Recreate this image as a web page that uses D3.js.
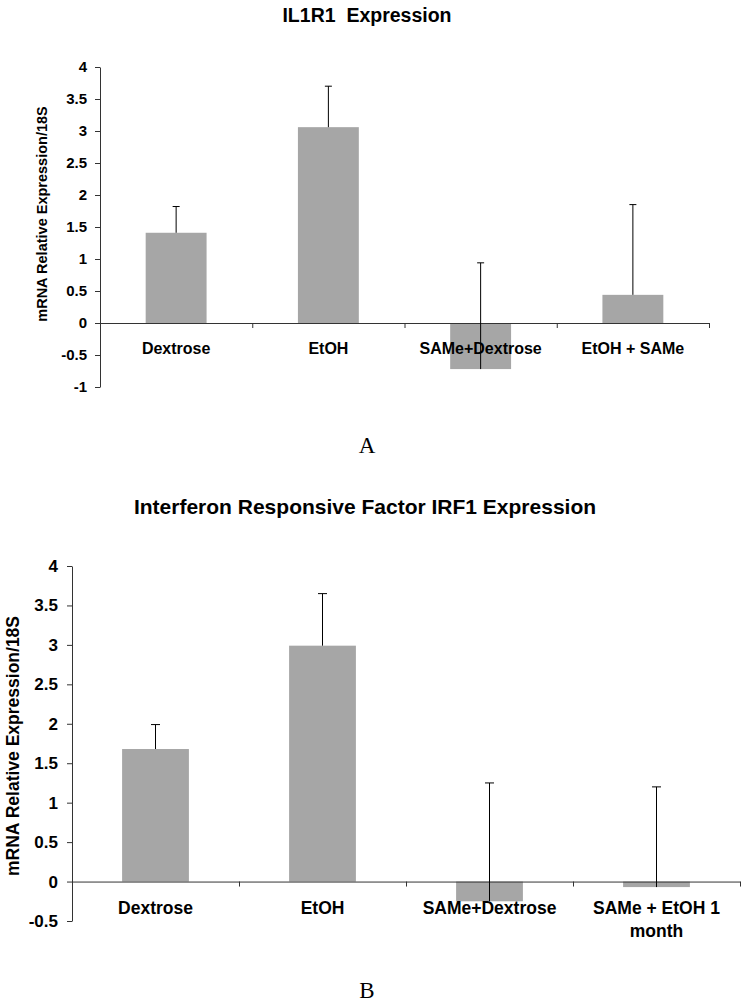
<!DOCTYPE html>
<html>
<head>
<meta charset="utf-8">
<script src="https://cdn.jsdelivr.net/npm/d3@7"></script>
<style>
  body { margin: 0; background: #fff; }
  svg text { font-family: "Liberation Sans", Arial, sans-serif; font-weight: bold; fill: #000; white-space: pre; }
  .panel-letter { font-family: "Liberation Serif", "Times New Roman", serif !important; font-weight: normal !important; }
</style>
</head>
<body>
<div class="canvas"></div>
<script>
// chart A data
const titleA = 'IL1R1  Expression'
const categoriesA = [['Dextrose'], ['EtOH'], ['SAMe+Dextrose'], ['EtOH + SAMe']]
const valuesA = [1.41, 3.06, -0.72, 0.44]
const errorsA = [0.41, 0.64, 1.66, 1.41]
const yTicksA = [-1, -0.5, 0, 0.5, 1, 1.5, 2, 2.5, 3, 3.5, 4]

// chart B data
const titleB = 'Interferon Responsive Factor IRF1 Expression'
const categoriesB = [['Dextrose'], ['EtOH'], ['SAMe+Dextrose'], ['SAMe + EtOH 1', 'month']]
const valuesB = [1.68, 2.99, -0.25, -0.07]
const errorsB = [0.31, 0.66, 1.50, 1.27]
const yTicksB = [-0.5, 0, 0.5, 1, 1.5, 2, 2.5, 3, 3.5, 4]

const yLabel = 'mRNA Relative Expression/18S'

const svg = d3.select('.canvas')
    .append('svg')
    .attr('width', 746)
    .attr('height', 1003)

const drawChart = (cfg) => {
    const g = svg.append('g')
    const n = cfg.categories.length

    const y = d3.scaleLinear()
        .domain(cfg.yDomain)
        .range([cfg.bottom, cfg.top])

    const x = d3.scaleBand()
        .domain(d3.range(n))
        .range([cfg.left, cfg.right])
        .paddingInner(0.6)
        .paddingOuter(0.3)

    // linear scale over category slots, used for the boundary ticks
    const xEdge = d3.scaleLinear()
        .domain([0, n])
        .range([cfg.left, cfg.right])

    // title
    g.append('text')
        .attr('x', cfg.titleX)
        .attr('y', cfg.titleY)
        .attr('text-anchor', 'middle')
        .style('font-size', cfg.titleFont)
        .text(cfg.title)

    // bars
    g.selectAll('rect.bar')
        .data(cfg.values)
        .enter()
        .append('rect')
            .attr('class', 'bar')
            .attr('x', (d, i) => x(i))
            .attr('width', x.bandwidth())
            .attr('y', d => y(Math.max(0, d)))
            .attr('height', d => Math.abs(y(d) - y(0)))
            .attr('fill', '#a6a6a6')

    // y axis
    const yAxis = d3.axisLeft(y)
        .tickValues(cfg.yTicks)
        .tickFormat(d => String(d))
        .tickSize(5)
        .tickSizeOuter(0)
        .tickPadding(cfg.tickPad)

    const yG = g.append('g')
        .attr('transform', `translate(${cfg.left},0)`)
        .call(yAxis)
    yG.selectAll('path, line').attr('stroke', '#333')
    yG.selectAll('text')
        .style('font-size', cfg.tickFont)
        .style('font-family', '"Liberation Sans", Arial, sans-serif')
        .style('font-weight', 'bold')
        .attr('fill', '#000')

    // x axis at zero, ticks on category boundaries
    const xAxis = d3.axisBottom(xEdge)
        .tickValues(d3.range(1, n + 1))
        .tickFormat('')
        .tickSize(5)
        .tickSizeOuter(0)

    const xG = g.append('g')
        .attr('transform', `translate(0,${y(0)})`)
        .call(xAxis)
    xG.selectAll('path, line').attr('stroke', '#333')

    // category labels
    const labels = g.selectAll('text.cat')
        .data(cfg.categories)
        .enter()
        .append('text')
            .attr('class', 'cat')
            .attr('text-anchor', 'middle')
            .attr('x', (d, i) => x(i) + x.bandwidth() / 2)
            .attr('y', y(0) + cfg.labelDy)
            .style('font-size', cfg.catFont)

    labels.selectAll('tspan')
        .data(d => d)
        .enter()
        .append('tspan')
            .attr('x', function() { return this.parentNode.getAttribute('x') })
            .attr('dy', (d, i) => i === 0 ? 0 : cfg.lineH)
            .text(d => d)

    // error bars
    const errs = g.selectAll('g.err')
        .data(cfg.values.map((v, i) => ({v, e: cfg.errors[i], i})))
        .enter()
        .append('g')
            .attr('class', 'err')

    errs.append('line')
        .attr('x1', d => x(d.i) + x.bandwidth() / 2)
        .attr('x2', d => x(d.i) + x.bandwidth() / 2)
        .attr('y1', d => y(d.v))
        .attr('y2', d => y(d.v + d.e))
        .attr('stroke', '#000')

    errs.append('line')
        .attr('x1', d => x(d.i) + x.bandwidth() / 2 - cfg.cap)
        .attr('x2', d => x(d.i) + x.bandwidth() / 2 + cfg.cap)
        .attr('y1', d => y(d.v + d.e))
        .attr('y2', d => y(d.v + d.e))
        .attr('stroke', '#000')

    // y label
    g.append('text')
        .attr('transform', `translate(${cfg.yLabelX},${cfg.yLabelY}) rotate(-90)`)
        .attr('text-anchor', 'middle')
        .style('font-size', cfg.yLabelFont)
        .text(yLabel)

    // panel letter
    g.append('text')
        .attr('class', 'panel-letter')
        .attr('x', 367)
        .attr('y', cfg.letterY)
        .attr('text-anchor', 'middle')
        .style('font-size', '23px')
        .text(cfg.letter)
}

drawChart({
    title: titleA, categories: categoriesA, values: valuesA, errors: errorsA, yTicks: yTicksA,
    yDomain: [-1, 4], left: 100, right: 709, top: 67, bottom: 387,
    titleX: 367, titleY: 22, titleFont: '19.5px', tickPad: 8, tickFont: '15px', catFont: '16px',
    labelDy: 31, lineH: 22, cap: 3.5,
    yLabelX: 47, yLabelY: 214, yLabelFont: '14.5px',
    letter: 'A', letterY: 453
})

drawChart({
    title: titleB, categories: categoriesB, values: valuesB, errors: errorsB, yTicks: yTicksB,
    yDomain: [-0.5, 4], left: 72, right: 740, top: 566, bottom: 921,
    titleX: 365, titleY: 514, titleFont: '21px', tickPad: 9, tickFont: '17px', catFont: '17.5px',
    labelDy: 32, lineH: 23, cap: 4.5,
    yLabelX: 19, yLabelY: 746, yLabelFont: '17.5px',
    letter: 'B', letterY: 998
})
</script>
</body>
</html>
